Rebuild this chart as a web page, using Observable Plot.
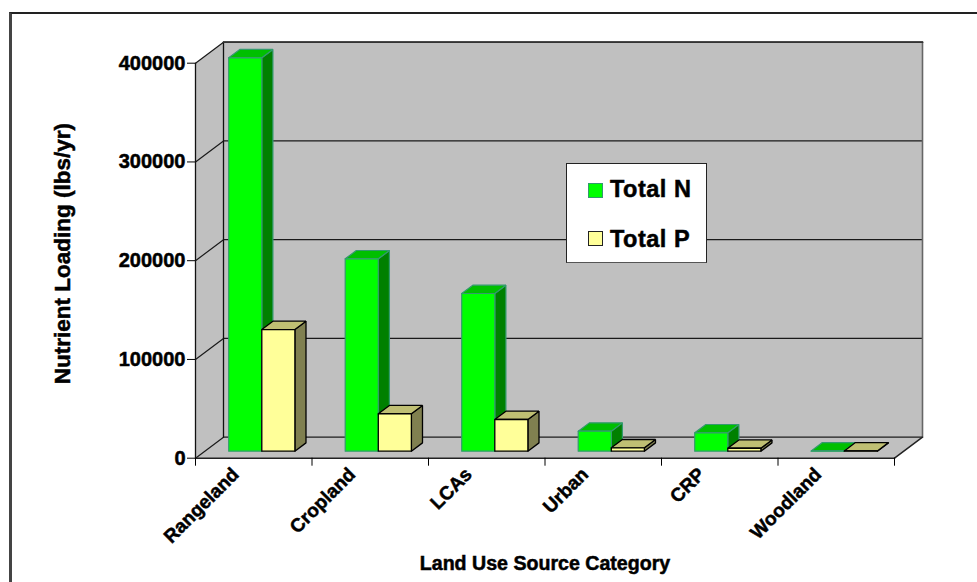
<!DOCTYPE html>
<html>
<head>
<meta charset="utf-8">
<script src="https://cdn.jsdelivr.net/npm/d3@7"></script>
<script src="https://cdn.jsdelivr.net/npm/@observablehq/plot@0.6"></script>
<style>
  html, body { margin: 0; padding: 0; background: #fff; }
  #chart { position: relative; width: 977px; height: 582px; overflow: hidden; font-family: "Liberation Sans", Arial, sans-serif; font-weight: bold; color: #000; }
  #chart svg { position: absolute; left: 0; top: 0; }
  #border { position: absolute; left: 9px; top: 12px; right: -4px; bottom: -4px; border-top: 2px solid #222; border-left: 3px solid #444; }
  #legend { position: absolute; left: 566px; top: 163px; width: 141px; height: 100px; box-sizing: border-box; background: #fff; border: 1.5px solid #222; border-bottom-color: #555; }
  #legend .swatch { position: absolute; left: 21px; width: 15px; height: 15px; box-sizing: border-box; }
  #legend .label { position: absolute; left: 43px; font-size: 23.5px; letter-spacing: 0.5px; line-height: 24px; white-space: nowrap; -webkit-text-stroke: 0.5px #000; }
  g.heavy text { stroke: #000; stroke-width: 0.5px; }
</style>
</head>
<body>
<div id="chart"></div>
<script>
// Nutrient loading per land use source category (lbs/yr)
const categories = ["Rangeland", "Cropland", "LCAs", "Urban", "CRP", "Woodland"];
const totalN = [398400, 194800, 159700, 20250, 18600, 300];
const totalP = [123200, 37900, 32100, 3400, 3000, 300];
const yTicks = [0, 100000, 200000, 300000, 400000];

const seriesStyles = [
  {values: totalN, slot: 0, front: "#00ff00", top: "#00bf00", side: "#008000", stroke: "#339a6e", strokeWidth: 1.2},
  {values: totalP, slot: 1, front: "#ffff99", top: "#bfbf73", side: "#808050", stroke: "#000000", strokeWidth: 1.3}
];

// Oblique projection: depth runs 0 (front of floor) to 1 (back wall)
const maxValue = 400000;
const plotWidth = 699, plotHeight = 395;
const depthShiftX = 28 / (plotWidth / categories.length);
const depthShiftY = 21 / plotHeight * maxValue;
const project = (c, v, d = 0) => ({x: c + d * depthShiftX, y: v + d * depthShiftY});

const barInset = 0.205, barWidth = 0.284, barFrontDepth = 1 / 3, barBackDepth = 0.73;

// Closed polygons, painted back to front
const polygonsFrom = () => {
  const list = [];
  let next = 0;
  return {
    list,
    add(points, fill, stroke = "none", strokeWidth = 0) {
      const id = next++;
      [...points, points[0]].forEach(([c, v, d]) => list.push({id, fill, stroke, strokeWidth, ...project(c, v, d)}));
    }
  };
};

const nc = categories.length;
const walls = polygonsFrom();
walls.add([[0, 0, 1], [nc, 0, 1], [nc, maxValue, 1], [0, maxValue, 1]], "#c0c0c0");
walls.add([[0, 0, 0], [0, 0, 1], [0, maxValue, 1], [0, maxValue, 0]], "#c0c0c0");
walls.add([[0, 0, 0], [nc, 0, 0], [nc, 0, 1], [0, 0, 1]], "#c0c0c0");

const bars = polygonsFrom();
categories.forEach((_, i) => {
  seriesStyles.forEach(({values, slot, front, top, side, stroke, strokeWidth}) => {
    const x0 = i + barInset + slot * barWidth, x1 = x0 + barWidth, v = values[i];
    const f = barFrontDepth, b = barBackDepth;
    bars.add([[x1, 0, f], [x1, 0, b], [x1, v, b], [x1, v, f]], side, stroke, strokeWidth);
    bars.add([[x0, v, f], [x1, v, f], [x1, v, b], [x0, v, b]], top, stroke, strokeWidth);
    bars.add([[x0, 0, f], [x1, 0, f], [x1, v, f], [x0, v, f]], front, stroke, strokeWidth);
  });
});

// Gridlines run across the left wall and along the back wall
const gridLines = yTicks.flatMap((t) => [[0, t, 0], [0, t, 1], [nc, t, 1]].map(([c, v, d]) => ({t, ...project(c, v, d)})));
const edge = (id, a, b) => [a, b].map(([c, v, d]) => ({id, ...project(c, v, d)}));
const innerEdges = [
  ...edge("left-front", [0, 0, 0], [0, maxValue, 0]),
  ...edge("left-back", [0, 0, 1], [0, maxValue, 1])
];
const outerEdges = [
  ...edge("floor-front", [0, 0, 0], [nc, 0, 0]),
  ...edge("floor-right", [nc, 0, 0], [nc, 0, 1])
];
const wallRight = edge("wall-right", [nc, 0, 1], [nc, maxValue, 1]);
const wallTop = edge("wall-top", [0, maxValue, 1], [nc, maxValue, 1]);

const polygons = (data) => Plot.line(data, {
  x: "x", y: "y", z: "id", fill: "fill", stroke: "stroke", strokeWidth: "strokeWidth",
  curve: "linear", strokeLinejoin: "miter"
});

const chart = Plot.plot({
  width: 977,
  height: 582,
  marginLeft: 195,
  marginRight: 83,
  marginTop: 62.7,
  marginBottom: 124.3,
  style: {background: "transparent", fontFamily: '"Liberation Sans", Arial, sans-serif', fontWeight: "bold", color: "#000", overflow: "visible"},
  x: {domain: [0, nc], axis: null},
  y: {domain: [0, maxValue], axis: null},
  color: {type: "identity"},
  strokeWidth: {type: "identity"},
  marks: [
    polygons(walls.list),
    Plot.line(gridLines, {x: "x", y: "y", z: "t", stroke: "#1a1a1a", strokeWidth: 1.2, curve: "linear"}),
    Plot.line(innerEdges, {x: "x", y: "y", z: "id", stroke: "#111", strokeWidth: 1.3, curve: "linear"}),
    Plot.line(wallRight, {x: "x", y: "y", z: "id", stroke: "#666", strokeWidth: 1.6, curve: "linear"}),
    Plot.line(wallTop, {x: "x", y: "y", z: "id", stroke: "#333", strokeWidth: 1.8, curve: "linear"}),
    Plot.line(outerEdges, {x: "x", y: "y", z: "id", stroke: "#222", strokeWidth: 1.5, curve: "linear"}),
    polygons(bars.list),
    Plot.axisY({ticks: yTicks, tickSize: 8, tickPadding: 2, tickFormat: (d) => String(d), label: null, fontSize: 20, className: "heavy"}),
    Plot.axisX({ticks: d3.range(nc + 1), tickSize: 8, tickFormat: () => "", label: null}),
    Plot.axisX({
      ticks: categories.map((_, i) => i + 0.5),
      tickSize: 0,
      tickPadding: 0,
      tickRotate: -45,
      tickFormat: (d) => categories[Math.floor(d)],
      label: null,
      fontSize: 19,
      dx: -18,
      dy: 13,
      className: "heavy"
    }),
    Plot.text(["Nutrient Loading (lbs/yr)"], {frameAnchor: "left", textAnchor: "middle", rotate: -90, dx: -133, dy: -7, fontSize: 22.5, fontWeight: "bold", className: "heavy"}),
    Plot.text(["Land Use Source Category"], {frameAnchor: "bottom", dy: 106, lineAnchor: "middle", fontSize: 19.6, fontWeight: "bold", className: "heavy"})
  ]
});

const root = document.getElementById("chart");
root.appendChild(chart);

const border = document.createElement("div");
border.id = "border";
root.appendChild(border);

// Legend box laid over the back wall
const legend = document.createElement("div");
legend.id = "legend";
[
  {label: "Total N", color: "#00ff00", line: "#339a6e", textTop: 13, swatchTop: 19},
  {label: "Total P", color: "#ffff99", line: "#222", textTop: 62.5, swatchTop: 67}
].forEach(({label, color, line, textTop, swatchTop}) => {
  const swatch = document.createElement("span");
  swatch.className = "swatch";
  swatch.style.cssText = `top:${swatchTop}px;background:${color};border:1.2px solid ${line}`;
  const text = document.createElement("span");
  text.className = "label";
  text.style.top = textTop + "px";
  text.textContent = label;
  legend.append(swatch, text);
});
root.appendChild(legend);
</script>
</body>
</html>
